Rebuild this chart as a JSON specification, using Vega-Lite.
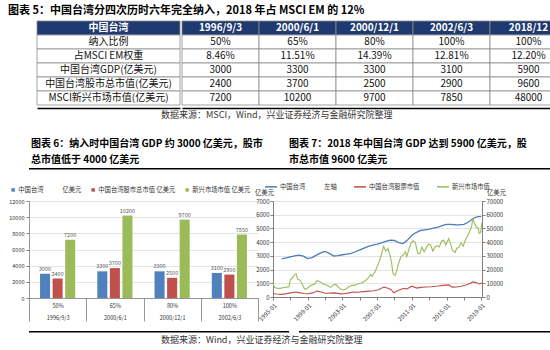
{
  "$schema": "https://vega.github.io/schema/vega-lite/v6.json",
  "padding": {"left": 5, "right": 5, "top": 4, "bottom": 0},
  "background": "white",
  "config": {"font": "Noto Sans CJK SC", "view": {"stroke": null}, "concat": {"spacing": 0}},
  "title": {"text": "图表 5：中国台湾分四次历时六年完全纳入，2018 年占 MSCI EM 的 12%", "anchor": "start", "fontSize": 11, "fontWeight": "bold", "color": "#000", "offset": 5, "dx": 3},
  "resolve": {"scale": {"color": "independent"}, "legend": {"color": "independent"}},
  "datasets": {
    "one": [{"a": 0, "b": 1}],
    "tbl": [
      {"r": 0, "c": 0, "t": "中国台湾"}, {"r": 0, "c": 1, "t": "1996/9/3"}, {"r": 0, "c": 2, "t": "2000/6/1"}, {"r": 0, "c": 3, "t": "2000/12/1"}, {"r": 0, "c": 4, "t": "2002/6/3"}, {"r": 0, "c": 5, "t": "2018/12"},
      {"r": 1, "c": 0, "t": "纳入比例"}, {"r": 1, "c": 1, "t": "50%"}, {"r": 1, "c": 2, "t": "65%"}, {"r": 1, "c": 3, "t": "80%"}, {"r": 1, "c": 4, "t": "100%"}, {"r": 1, "c": 5, "t": "100%"},
      {"r": 2, "c": 0, "t": "占MSCI EM权重"}, {"r": 2, "c": 1, "t": "8.46%"}, {"r": 2, "c": 2, "t": "11.51%"}, {"r": 2, "c": 3, "t": "14.39%"}, {"r": 2, "c": 4, "t": "12.81%"}, {"r": 2, "c": 5, "t": "12.20%"},
      {"r": 3, "c": 0, "t": "中国台湾GDP(亿美元)"}, {"r": 3, "c": 1, "t": "3000"}, {"r": 3, "c": 2, "t": "3300"}, {"r": 3, "c": 3, "t": "3300"}, {"r": 3, "c": 4, "t": "3100"}, {"r": 3, "c": 5, "t": "5900"},
      {"r": 4, "c": 0, "t": "中国台湾股市总市值(亿美元)"}, {"r": 4, "c": 1, "t": "2400"}, {"r": 4, "c": 2, "t": "3700"}, {"r": 4, "c": 3, "t": "2500"}, {"r": 4, "c": 4, "t": "2900"}, {"r": 4, "c": 5, "t": "9600"},
      {"r": 5, "c": 0, "t": "MSCI新兴市场市值(亿美元)"}, {"r": 5, "c": 1, "t": "7200"}, {"r": 5, "c": 2, "t": "10200"}, {"r": 5, "c": 3, "t": "9700"}, {"r": 5, "c": 4, "t": "7850"}, {"r": 5, "c": 5, "t": "48000"}
    ],
    "bars": [
      {"cat": "50%|1996/9/3", "s": "中国台湾", "v": 3000},
      {"cat": "50%|1996/9/3", "s": "中国台湾股市总市值", "v": 2400},
      {"cat": "50%|1996/9/3", "s": "新兴市场市值", "v": 7200},
      {"cat": "65%|2000/6/1", "s": "中国台湾", "v": 3300},
      {"cat": "65%|2000/6/1", "s": "中国台湾股市总市值", "v": 3700},
      {"cat": "65%|2000/6/1", "s": "新兴市场市值", "v": 10200},
      {"cat": "80%|2000/12/1", "s": "中国台湾", "v": 3300},
      {"cat": "80%|2000/12/1", "s": "中国台湾股市总市值", "v": 2500},
      {"cat": "80%|2000/12/1", "s": "新兴市场市值", "v": 9700},
      {"cat": "100%|2002/6/3", "s": "中国台湾", "v": 3100},
      {"cat": "100%|2002/6/3", "s": "中国台湾股市总市值", "v": 2900},
      {"cat": "100%|2002/6/3", "s": "新兴市场市值", "v": 7850}
    ],
    "lines": [
      {"s": "中国台湾", "d": "1996-01", "v": 2780}, {"s": "中国台湾", "d": "1996-07", "v": 2850}, {"s": "中国台湾", "d": "1997-01", "v": 2930}, {"s": "中国台湾", "d": "1997-07", "v": 3000}, {"s": "中国台湾", "d": "1998-01", "v": 3050}, {"s": "中国台湾", "d": "1998-07", "v": 2980}, {"s": "中国台湾", "d": "1999-01", "v": 2800}, {"s": "中国台湾", "d": "1999-07", "v": 2870}, {"s": "中国台湾", "d": "2000-01", "v": 3050}, {"s": "中国台湾", "d": "2000-07", "v": 3220}, {"s": "中国台湾", "d": "2001-01", "v": 3330}, {"s": "中国台湾", "d": "2001-07", "v": 3180}, {"s": "中国台湾", "d": "2002-01", "v": 2990}, {"s": "中国台湾", "d": "2002-07", "v": 3020}, {"s": "中国台湾", "d": "2003-01", "v": 3080}, {"s": "中国台湾", "d": "2003-07", "v": 3120}, {"s": "中国台湾", "d": "2004-01", "v": 3180}, {"s": "中国台湾", "d": "2004-07", "v": 3300}, {"s": "中国台湾", "d": "2005-01", "v": 3430}, {"s": "中国台湾", "d": "2005-07", "v": 3570}, {"s": "中国台湾", "d": "2006-01", "v": 3690}, {"s": "中国台湾", "d": "2006-07", "v": 3780}, {"s": "中国台湾", "d": "2007-01", "v": 3860}, {"s": "中国台湾", "d": "2007-07", "v": 3950}, {"s": "中国台湾", "d": "2008-01", "v": 4060}, {"s": "中国台湾", "d": "2008-07", "v": 4150}, {"s": "中国台湾", "d": "2009-01", "v": 4120}, {"s": "中国台湾", "d": "2009-07", "v": 3960}, {"s": "中国台湾", "d": "2010-01", "v": 3900}, {"s": "中国台湾", "d": "2010-07", "v": 4150}, {"s": "中国台湾", "d": "2011-01", "v": 4500}, {"s": "中国台湾", "d": "2011-07", "v": 4700}, {"s": "中国台湾", "d": "2012-01", "v": 4850}, {"s": "中国台湾", "d": "2012-07", "v": 4900}, {"s": "中国台湾", "d": "2013-01", "v": 4950}, {"s": "中国台湾", "d": "2013-07", "v": 5030}, {"s": "中国台湾", "d": "2014-01", "v": 5100}, {"s": "中国台湾", "d": "2014-07", "v": 5200}, {"s": "中国台湾", "d": "2015-01", "v": 5300}, {"s": "中国台湾", "d": "2015-07", "v": 5300}, {"s": "中国台湾", "d": "2016-01", "v": 5270}, {"s": "中国台湾", "d": "2016-07", "v": 5260}, {"s": "中国台湾", "d": "2017-01", "v": 5290}, {"s": "中国台湾", "d": "2017-07", "v": 5450}, {"s": "中国台湾", "d": "2018-01", "v": 5700}, {"s": "中国台湾", "d": "2018-07", "v": 5850}, {"s": "中国台湾", "d": "2019-01", "v": 5880},
      {"s": "中国台湾股票市值", "d": "1995-01", "v": 2500}, {"s": "中国台湾股票市值", "d": "1995-06", "v": 2200}, {"s": "中国台湾股票市值", "d": "1996-01", "v": 1900}, {"s": "中国台湾股票市值", "d": "1996-06", "v": 2300}, {"s": "中国台湾股票市值", "d": "1997-01", "v": 3000}, {"s": "中国台湾股票市值", "d": "1997-08", "v": 3600}, {"s": "中国台湾股票市值", "d": "1998-01", "v": 3200}, {"s": "中国台湾股票市值", "d": "1998-08", "v": 2600}, {"s": "中国台湾股票市值", "d": "1999-01", "v": 2400}, {"s": "中国台湾股票市值", "d": "1999-08", "v": 3000}, {"s": "中国台湾股票市值", "d": "2000-02", "v": 4300}, {"s": "中国台湾股票市值", "d": "2000-08", "v": 3600}, {"s": "中国台湾股票市值", "d": "2001-01", "v": 2700}, {"s": "中国台湾股票市值", "d": "2001-08", "v": 2800}, {"s": "中国台湾股票市值", "d": "2002-03", "v": 3000}, {"s": "中国台湾股票市值", "d": "2002-10", "v": 2300}, {"s": "中国台湾股票市值", "d": "2003-04", "v": 2400}, {"s": "中国台湾股票市值", "d": "2003-10", "v": 3000}, {"s": "中国台湾股票市值", "d": "2004-04", "v": 3600}, {"s": "中国台湾股票市值", "d": "2004-10", "v": 3500}, {"s": "中国台湾股票市值", "d": "2005-06", "v": 3900}, {"s": "中国台湾股票市值", "d": "2006-01", "v": 4300}, {"s": "中国台湾股票市值", "d": "2006-08", "v": 4600}, {"s": "中国台湾股票市值", "d": "2007-03", "v": 5300}, {"s": "中国台湾股票市值", "d": "2007-10", "v": 7200}, {"s": "中国台湾股票市值", "d": "2008-03", "v": 6500}, {"s": "中国台湾股票市值", "d": "2008-08", "v": 5500}, {"s": "中国台湾股票市值", "d": "2008-12", "v": 3100}, {"s": "中国台湾股票市值", "d": "2009-06", "v": 4800}, {"s": "中国台湾股票市值", "d": "2010-01", "v": 6200}, {"s": "中国台湾股票市值", "d": "2010-06", "v": 5900}, {"s": "中国台湾股票市值", "d": "2011-01", "v": 7900}, {"s": "中国台湾股票市值", "d": "2011-08", "v": 6500}, {"s": "中国台湾股票市值", "d": "2012-01", "v": 7000}, {"s": "中国台湾股票市值", "d": "2012-08", "v": 7300}, {"s": "中国台湾股票市值", "d": "2013-04", "v": 7500}, {"s": "中国台湾股票市值", "d": "2014-01", "v": 8000}, {"s": "中国台湾股票市值", "d": "2014-08", "v": 8500}, {"s": "中国台湾股票市值", "d": "2015-04", "v": 8800}, {"s": "中国台湾股票市值", "d": "2015-09", "v": 7200}, {"s": "中国台湾股票市值", "d": "2016-03", "v": 7300}, {"s": "中国台湾股票市值", "d": "2016-09", "v": 7900}, {"s": "中国台湾股票市值", "d": "2017-04", "v": 8800}, {"s": "中国台湾股票市值", "d": "2017-10", "v": 10000}, {"s": "中国台湾股票市值", "d": "2018-01", "v": 11000}, {"s": "中国台湾股票市值", "d": "2018-06", "v": 10500}, {"s": "中国台湾股票市值", "d": "2018-10", "v": 9500}, {"s": "中国台湾股票市值", "d": "2019-01", "v": 10000}, {"s": "中国台湾股票市值", "d": "2019-02", "v": 10400},
      {"s": "新兴市场市值", "d": "1995-01", "v": 10500}, {"s": "新兴市场市值", "d": "1995-03", "v": 7000}, {"s": "新兴市场市值", "d": "1995-06", "v": 6500}, {"s": "新兴市场市值", "d": "1995-10", "v": 6300}, {"s": "新兴市场市值", "d": "1996-03", "v": 6800}, {"s": "新兴市场市值", "d": "1996-08", "v": 7200}, {"s": "新兴市场市值", "d": "1996-11", "v": 7400}, {"s": "新兴市场市值", "d": "1997-01", "v": 12800}, {"s": "新兴市场市值", "d": "1997-04", "v": 14000}, {"s": "新兴市场市值", "d": "1997-07", "v": 16500}, {"s": "新兴市场市值", "d": "1997-09", "v": 17000}, {"s": "新兴市场市值", "d": "1997-11", "v": 13000}, {"s": "新兴市场市值", "d": "1998-02", "v": 12500}, {"s": "新兴市场市值", "d": "1998-05", "v": 10000}, {"s": "新兴市场市值", "d": "1998-08", "v": 6500}, {"s": "新兴市场市值", "d": "1998-10", "v": 5500}, {"s": "新兴市场市值", "d": "1999-01", "v": 6500}, {"s": "新兴市场市值", "d": "1999-04", "v": 8000}, {"s": "新兴市场市值", "d": "1999-08", "v": 9000}, {"s": "新兴市场市值", "d": "1999-11", "v": 9700}, {"s": "新兴市场市值", "d": "2000-02", "v": 12000}, {"s": "新兴市场市值", "d": "2000-04", "v": 11500}, {"s": "新兴市场市值", "d": "2000-07", "v": 10800}, {"s": "新兴市场市值", "d": "2000-10", "v": 9500}, {"s": "新兴市场市值", "d": "2001-01", "v": 9000}, {"s": "新兴市场市值", "d": "2001-04", "v": 8500}, {"s": "新兴市场市值", "d": "2001-09", "v": 7000}, {"s": "新兴市场市值", "d": "2001-12", "v": 8700}, {"s": "新兴市场市值", "d": "2002-04", "v": 9200}, {"s": "新兴市场市值", "d": "2002-08", "v": 7000}, {"s": "新兴市场市值", "d": "2002-11", "v": 5500}, {"s": "新兴市场市值", "d": "2003-03", "v": 5200}, {"s": "新兴市场市值", "d": "2003-06", "v": 5900}, {"s": "新兴市场市值", "d": "2003-10", "v": 7500}, {"s": "新兴市场市值", "d": "2004-02", "v": 8500}, {"s": "新兴市场市值", "d": "2004-06", "v": 8500}, {"s": "新兴市场市值", "d": "2004-10", "v": 9500}, {"s": "新兴市场市值", "d": "2005-03", "v": 10200}, {"s": "新兴市场市值", "d": "2005-08", "v": 11500}, {"s": "新兴市场市值", "d": "2005-12", "v": 13500}, {"s": "新兴市场市值", "d": "2006-04", "v": 16500}, {"s": "新兴市场市值", "d": "2006-06", "v": 15000}, {"s": "新兴市场市值", "d": "2006-10", "v": 18500}, {"s": "新兴市场市值", "d": "2007-01", "v": 22000}, {"s": "新兴市场市值", "d": "2007-04", "v": 26000}, {"s": "新兴市场市值", "d": "2007-07", "v": 31000}, {"s": "新兴市场市值", "d": "2007-10", "v": 37000}, {"s": "新兴市场市值", "d": "2008-01", "v": 33500}, {"s": "新兴市场市值", "d": "2008-04", "v": 35500}, {"s": "新兴市场市值", "d": "2008-07", "v": 30000}, {"s": "新兴市场市值", "d": "2008-09", "v": 25000}, {"s": "新兴市场市值", "d": "2008-11", "v": 17000}, {"s": "新兴市场市值", "d": "2009-02", "v": 15800}, {"s": "新兴市场市值", "d": "2009-04", "v": 19000}, {"s": "新兴市场市值", "d": "2009-07", "v": 25000}, {"s": "新兴市场市值", "d": "2009-10", "v": 29500}, {"s": "新兴市场市值", "d": "2010-01", "v": 30500}, {"s": "新兴市场市值", "d": "2010-04", "v": 33000}, {"s": "新兴市场市值", "d": "2010-06", "v": 29500}, {"s": "新兴市场市值", "d": "2010-09", "v": 35000}, {"s": "新兴市场市值", "d": "2010-12", "v": 39500}, {"s": "新兴市场市值", "d": "2011-03", "v": 41000}, {"s": "新兴市场市值", "d": "2011-06", "v": 39500}, {"s": "新兴市场市值", "d": "2011-09", "v": 32000}, {"s": "新兴市场市值", "d": "2011-12", "v": 31500}, {"s": "新兴市场市值", "d": "2012-03", "v": 36500}, {"s": "新兴市场市值", "d": "2012-06", "v": 33000}, {"s": "新兴市场市值", "d": "2012-09", "v": 36000}, {"s": "新兴市场市值", "d": "2012-12", "v": 38500}, {"s": "新兴市场市值", "d": "2013-03", "v": 38000}, {"s": "新兴市场市值", "d": "2013-06", "v": 33500}, {"s": "新兴市场市值", "d": "2013-09", "v": 36500}, {"s": "新兴市场市值", "d": "2013-12", "v": 37500}, {"s": "新兴市场市值", "d": "2014-03", "v": 36500}, {"s": "新兴市场市值", "d": "2014-06", "v": 40500}, {"s": "新兴市场市值", "d": "2014-09", "v": 41500}, {"s": "新兴市场市值", "d": "2014-12", "v": 38000}, {"s": "新兴市场市值", "d": "2015-04", "v": 42500}, {"s": "新兴市场市值", "d": "2015-06", "v": 40000}, {"s": "新兴市场市值", "d": "2015-09", "v": 34000}, {"s": "新兴市场市值", "d": "2016-01", "v": 32500}, {"s": "新兴市场市值", "d": "2016-03", "v": 35500}, {"s": "新兴市场市值", "d": "2016-06", "v": 36000}, {"s": "新兴市场市值", "d": "2016-09", "v": 39500}, {"s": "新兴市场市值", "d": "2016-12", "v": 37000}, {"s": "新兴市场市值", "d": "2017-03", "v": 41500}, {"s": "新兴市场市值", "d": "2017-06", "v": 44500}, {"s": "新兴市场市值", "d": "2017-09", "v": 48000}, {"s": "新兴市场市值", "d": "2017-12", "v": 52000}, {"s": "新兴市场市值", "d": "2018-01", "v": 57500}, {"s": "新兴市场市值", "d": "2018-03", "v": 54500}, {"s": "新兴市场市值", "d": "2018-06", "v": 51000}, {"s": "新兴市场市值", "d": "2018-09", "v": 50000}, {"s": "新兴市场市值", "d": "2018-10", "v": 46500}, {"s": "新兴市场市值", "d": "2018-12", "v": 47000}, {"s": "新兴市场市值", "d": "2019-02", "v": 54500}
    ]
  },
  "vconcat": [
    {
      "spacing": 0,
      "hconcat": [
        {"width": 7, "height": 84, "data": {"values": []}, "mark": "rect"},
        {
          "width": 143, "height": 84,
          "data": {"name": "tbl"},
          "transform": [{"filter": "datum.c == 0"}],
          "encoding": {
            "x": {"field": "c", "type": "ordinal", "scale": {"paddingInner": 0, "paddingOuter": 0}, "axis": {"title": null, "labels": false, "ticks": false, "domain": true, "domainColor": "#000", "domainWidth": 1.5, "offset": 3}},
            "y": {"field": "r", "type": "ordinal", "scale": {"paddingInner": 0, "paddingOuter": 0}, "axis": null}
          },
          "layer": [
            {"mark": {"type": "rect", "stroke": "#8C8C8C", "strokeWidth": 0.8}, "encoding": {"fill": {"condition": {"test": "datum.r == 0", "value": "#1F3A70"}, "value": "#FFFFFF"}}},
            {"transform": [{"filter": "datum.r == 0"}], "mark": {"type": "text", "color": "#FFFFFF", "fontWeight": "bold", "fontSize": 10}, "encoding": {"text": {"field": "t"}}},
            {"transform": [{"filter": "datum.r > 0"}], "mark": {"type": "text", "color": "#111", "fontSize": 10}, "encoding": {"text": {"field": "t"}}}
          ]
        },
        {
          "width": 385, "height": 84,
          "data": {"name": "tbl"},
          "transform": [{"filter": "datum.c > 0"}],
          "encoding": {
            "x": {"field": "c", "type": "ordinal", "scale": {"paddingInner": 0, "paddingOuter": 0}, "axis": {"title": null, "labels": false, "ticks": false, "domain": true, "domainColor": "#000", "domainWidth": 1.5, "offset": 3}},
            "y": {"field": "r", "type": "ordinal", "scale": {"paddingInner": 0, "paddingOuter": 0}, "axis": null}
          },
          "layer": [
            {"mark": {"type": "rect", "stroke": "#8C8C8C", "strokeWidth": 0.8}, "encoding": {"fill": {"condition": {"test": "datum.r == 0", "value": "#1F3A70"}, "value": "#FFFFFF"}}},
            {"transform": [{"filter": "datum.r == 0"}], "mark": {"type": "text", "color": "#FFFFFF", "fontWeight": "bold", "fontSize": 10}, "encoding": {"text": {"field": "t"}}},
            {"transform": [{"filter": "datum.r > 0"}], "mark": {"type": "text", "color": "#111", "fontSize": 10}, "encoding": {"text": {"field": "t"}}}
          ]
        }
      ]
    },
    {
      "width": 276, "height": 1,
      "data": {"values": []},
      "mark": "rect",
      "title": {"text": "数据来源：MSCI，Wind，兴业证券经济与金融研究院整理", "orient": "bottom", "anchor": "start", "frame": "group", "fontSize": 9, "fontWeight": "normal", "color": "#333", "offset": 2, "dx": 132}
    },
    {
      "spacing": 9,
      "resolve": {"scale": {"color": "independent"}, "legend": {"color": "independent"}},
      "vconcat": [
        {"width": 1, "height": 10, "data": {"values": []}, "mark": "rect"},
        {
          "spacing": -10,
          "hconcat": [
            {
              "width": 260, "height": 1.5,
              "data": {"name": "one"},
              "mark": {"type": "rect", "color": "#000"},
              "encoding": {
                "x": {"field": "a", "type": "quantitative", "scale": {"domain": [0, 1]}, "axis": null},
                "x2": {"field": "b"},
                "y": {"field": "a", "type": "quantitative", "scale": {"domain": [0, 1]}, "axis": null},
                "y2": {"field": "b"}
              },
              "title": {"text": ["图表 6：纳入时中国台湾 GDP 约 3000 亿美元，股市", "总市值低于 4000 亿美元"], "anchor": "start", "fontSize": 10, "fontWeight": "bold", "lineHeight": 16, "offset": 3, "color": "#000", "dx": 2}
            },
            {
              "width": 262, "height": 1.5,
              "data": {"name": "one"},
              "mark": {"type": "rect", "color": "#000"},
              "encoding": {
                "x": {"field": "a", "type": "quantitative", "scale": {"domain": [0, 1]}, "axis": null},
                "x2": {"field": "b"},
                "y": {"field": "a", "type": "quantitative", "scale": {"domain": [0, 1]}, "axis": null},
                "y2": {"field": "b"}
              },
              "title": {"text": ["图表 7：2018 年中国台湾 GDP 达到 5900 亿美元，股", "市总市值 9600 亿美元"], "anchor": "start", "fontSize": 10, "fontWeight": "bold", "lineHeight": 16, "offset": 3, "color": "#000"}
            }
          ]
        },
        {
          "spacing": -5,
          "resolve": {"scale": {"color": "independent"}, "legend": {"color": "independent"}},
          "hconcat": [
            {
              "width": 229, "height": 97,
              "data": {"name": "bars"},
              "encoding": {
                "x": {"field": "cat", "type": "nominal", "sort": null, "scale": {"paddingInner": 0, "paddingOuter": 0},
                  "axis": {"title": null, "labelExpr": "split(datum.label, '|')", "labelAngle": 0, "labelFontSize": 5.5, "labelColor": "#333", "labelPadding": -18, "labelLineHeight": 12, "labelBaseline": "top", "tickBand": "extent", "tickSize": 23, "tickColor": "#7F7F7F", "tickWidth": 0.8, "domainColor": "#7F7F7F", "domainWidth": 0.8, "grid": false}},
                "xOffset": {"field": "s", "type": "nominal", "sort": null, "scale": {"paddingInner": 0.2, "paddingOuter": 0.88}},
                "y": {"field": "v", "type": "quantitative", "scale": {"domain": [0, 12000]},
                  "axis": {"title": " ", "titleAngle": 0, "titleBaseline": "middle", "titleAlign": "center", "titleX": -10, "titleY": -18, "titleFontSize": 6.3, "values": [0, 2000, 4000, 6000, 8000, 10000, 12000], "format": "d", "labelFontSize": 5.5, "labelColor": "#333", "tickSize": 3, "tickColor": "#7F7F7F", "domainColor": "#7F7F7F", "domainWidth": 0.8, "gridColor": "#D9D9D9", "gridWidth": 0.7, "labelPadding": 2, "minExtent": 24}}
              },
              "layer": [
                {"mark": {"type": "bar"}, "encoding": {"color": {"field": "s", "type": "nominal", "sort": null,
                  "scale": {"domain": ["中国台湾", "中国台湾股市总市值", "新兴市场市值"], "range": ["#4F81BD", "#C0504D", "#9BBB59"]},
                  "legend": {"orient": "none", "legendX": -19, "legendY": -14.5, "direction": "horizontal", "title": null, "symbolType": "square", "symbolSize": 12, "labelFontSize": 6.3, "labelColor": "#333", "columnPadding": 8, "labelOffset": 2,
                    "labelExpr": "datum.label == '中国台湾' ? '中国台湾　　　亿美元' : datum.label == '新兴市场市值' ? '　　新兴市场市值 亿美元' : datum.label + ' 亿美元'"}}}},
                {"mark": {"type": "text", "dy": -5, "fontSize": 5.5, "color": "#595959"}, "encoding": {"text": {"field": "v", "type": "quantitative", "format": "d"}}}
              ]
            },
            {
              "width": 209, "height": 96,
              "data": {"name": "lines"},
              "encoding": {
                "x": {"field": "d", "type": "temporal",
                  "scale": {"type": "utc", "domain": [{"year": 1995, "month": 1, "date": 1, "utc": true}, {"year": 2019, "month": 2, "date": 1, "utc": true}]},
                  "axis": {"title": null, "format": "%Y-%m", "labelAngle": -45, "labelFontSize": 6, "labelColor": "#333", "grid": false, "domainColor": "#7F7F7F", "tickColor": "#7F7F7F", "tickSize": 3,
                    "values": [{"year": 1995, "month": 1, "date": 1, "utc": true}, {"year": 1997, "month": 1, "date": 1, "utc": true}, {"year": 1999, "month": 1, "date": 1, "utc": true}, {"year": 2001, "month": 1, "date": 1, "utc": true}, {"year": 2003, "month": 1, "date": 1, "utc": true}, {"year": 2005, "month": 1, "date": 1, "utc": true}, {"year": 2007, "month": 1, "date": 1, "utc": true}, {"year": 2009, "month": 1, "date": 1, "utc": true}, {"year": 2011, "month": 1, "date": 1, "utc": true}, {"year": 2013, "month": 1, "date": 1, "utc": true}, {"year": 2015, "month": 1, "date": 1, "utc": true}, {"year": 2017, "month": 1, "date": 1, "utc": true}, {"year": 2019, "month": 1, "date": 1, "utc": true}]}},
                "color": {"field": "s", "type": "nominal", "sort": null,
                  "scale": {"domain": ["中国台湾", "中国台湾股票市值", "新兴市场市值"], "range": ["#4A7EBB", "#C0504D", "#9BBB59"]},
                  "legend": {"orient": "none", "legendX": -9, "legendY": -21.5, "direction": "horizontal", "title": null, "symbolType": "stroke", "symbolSize": 144, "symbolStrokeWidth": 1.5, "labelFontSize": 6.3, "labelColor": "#333", "columnPadding": 14, "labelOffset": 2,
                    "labelExpr": "datum.label == '中国台湾' ? '中国台湾　　　左轴' : datum.label == '新兴市场市值' ? '　　新兴市场市值' : datum.label"}}
              },
              "layer": [
                {"transform": [{"filter": "datum.s == '中国台湾'"}], "mark": {"type": "line", "strokeWidth": 1.3},
                  "encoding": {"y": {"field": "v", "type": "quantitative", "scale": {"domain": [0, 7000]},
                    "axis": {"title": "亿美元", "titleAngle": 0, "titleAlign": "center", "titleBaseline": "middle", "titleX": -9, "titleY": -8.5, "titleFontSize": 6.3, "titleFontWeight": "normal", "titleColor": "#333", "values": [0, 1000, 2000, 3000, 4000, 5000, 6000, 7000], "format": "d", "labelFontSize": 6, "labelColor": "#333", "tickSize": 3, "tickColor": "#7F7F7F", "domainColor": "#7F7F7F", "gridColor": "#D9D9D9", "gridWidth": 0.7, "labelPadding": 1, "minExtent": 19}}}},
                {"transform": [{"filter": "datum.s != '中国台湾'"}], "mark": {"type": "line", "strokeWidth": 1.1},
                  "encoding": {"y": {"field": "v", "type": "quantitative", "scale": {"domain": [0, 70000]},
                    "axis": {"orient": "right", "title": "亿美元", "titleAngle": 0, "titleAlign": "center", "titleBaseline": "middle", "titleX": 14, "titleY": -8.5, "titleFontSize": 6.3, "titleFontWeight": "normal", "titleColor": "#333", "values": [0, 10000, 20000, 30000, 40000, 50000, 60000, 70000], "format": "d", "labelFontSize": 6, "labelColor": "#333", "tickSize": 3, "tickColor": "#7F7F7F", "domainColor": "#7F7F7F", "grid": false, "labelPadding": 1}}}}
              ],
              "resolve": {"scale": {"y": "independent"}}
            }
          ]
        },
        {
          "spacing": 10,
          "hconcat": [
            {
              "width": 260, "height": 1.5,
              "data": {"name": "one"},
              "mark": {"type": "rect", "color": "#000"},
              "encoding": {
                "x": {"field": "a", "type": "quantitative", "scale": {"domain": [0, 1]}, "axis": null},
                "x2": {"field": "b"},
                "y": {"field": "a", "type": "quantitative", "scale": {"domain": [0, 1]}, "axis": null},
                "y2": {"field": "b"}
              }
            },
            {
              "width": 265, "height": 1.5,
              "data": {"name": "one"},
              "mark": {"type": "rect", "color": "#000"},
              "encoding": {
                "x": {"field": "a", "type": "quantitative", "scale": {"domain": [0, 1]}, "axis": null},
                "x2": {"field": "b"},
                "y": {"field": "a", "type": "quantitative", "scale": {"domain": [0, 1]}, "axis": null},
                "y2": {"field": "b"}
              }
            }
          ]
        }
      ]
    },
    {
      "width": 276, "height": 1,
      "data": {"values": []},
      "mark": "rect",
      "title": {"text": "数据来源：Wind，兴业证券经济与金融研究院整理", "orient": "bottom", "anchor": "start", "frame": "group", "fontSize": 9, "fontWeight": "normal", "color": "#333", "offset": 2, "dx": 132}
    }
  ]
}
